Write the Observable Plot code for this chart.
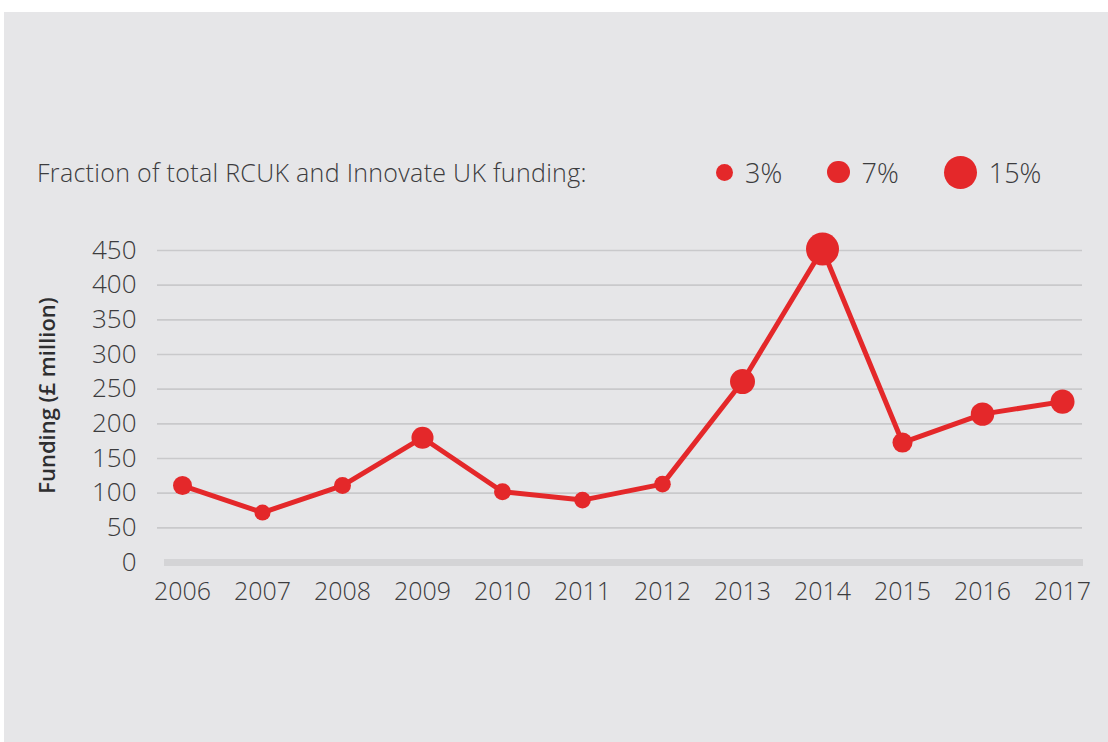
<!DOCTYPE html>
<html>
<head>
<meta charset="utf-8">
<script src="https://cdn.jsdelivr.net/npm/d3@7"></script>
<script src="https://cdn.jsdelivr.net/npm/@observablehq/plot@0.6"></script>
<style>
  html, body { margin: 0; padding: 0; background: #ffffff; width: 1108px; height: 742px; overflow: hidden; }
  #panel { position: absolute; left: 4px; top: 12px; width: 1104px; height: 730px; background: #e6e6e8; }
  #legend-title { position: absolute; left: 37px; top: 152px; height: 40px; display: flex; align-items: center;
    font-family: "Open Sans", sans-serif; font-weight: 300; font-size: 25px; letter-spacing: 0.3px; color: #3c3c3e; white-space: nowrap; }
  #legend { position: absolute; left: 716px; top: 152px; height: 40px; display: flex; align-items: center; gap: 45px;
    font-family: "Open Sans", sans-serif; font-weight: 300; font-size: 27px; color: #3c3c3e; }
  .item { display: flex; align-items: center; gap: 12px; }
  .swatch { border-radius: 50%; display: inline-block; }
  #chart { position: absolute; left: 0; top: 220px; }
</style>
</head>
<body>
<div id="panel"></div>
<div id="legend-title">Fraction of total RCUK and Innovate UK funding:</div>
<div id="legend"></div>
<div id="chart"></div>
<script>
const years = [2006, 2007, 2008, 2009, 2010, 2011, 2012, 2013, 2014, 2015, 2016, 2017];
const funding = [111, 72, 111, 180, 102, 90, 113, 261, 452, 173, 214, 232];
const fractionPct = [4.5, 2.3, 3.0, 6.8, 3.0, 2.7, 2.7, 9.0, 15.0, 5.3, 7.8, 8.3];
const legendFractions = [3, 7, 15];
const yTicks = [0, 50, 100, 150, 200, 250, 300, 350, 400, 450];
const yLabel = "Funding (£ million)";

const red = "#e4282a";
const data = years.map((year, i) => ({ year, funding: funding[i], fraction: fractionPct[i] }));

const chart = Plot.plot({
  width: 1108,
  height: 400,
  marginLeft: 181,
  marginRight: 46,
  marginTop: 30,
  marginBottom: 58,
  style: { background: "transparent", fontFamily: "Open Sans, sans-serif", color: "#3c3c3e", overflow: "visible" },
  x: { type: "point", domain: years, padding: 0 },
  y: { domain: [0, 450] },
  r: { type: "linear", domain: [0, 15], range: [6.5, 16.5] },
  marks: [
    Plot.ruleY(yTicks.filter(d => d > 0), { stroke: "#c9c9cb", strokeWidth: 1.6, insetLeft: -24, insetRight: -20 }),
    Plot.ruleY([0], { stroke: "#d4d4d6", strokeWidth: 7, insetLeft: -17, insetRight: -21 }),
    Plot.line(data, { x: "year", y: "funding", stroke: red, strokeWidth: 5 }),
    Plot.dot(data, { x: "year", y: "funding", r: "fraction", fill: red }),
    Plot.axisY({ ticks: yTicks, tickSize: 0, tickPadding: 45, fontSize: 26, fontWeight: 300, label: null }),
    Plot.axisX({ tickSize: 0, tickPadding: 20, fontSize: 25, fontWeight: 300, label: null, tickFormat: d => String(d) }),
    Plot.text([yLabel], { text: d => d, frameAnchor: "left", textAnchor: "middle", rotate: -90, dx: -134, dy: -11, fontSize: 22, fontWeight: 600, fill: "#2e2e30" })
  ]
});
document.getElementById("chart").appendChild(chart);

const rScale = chart.scale("r");
const legend = document.getElementById("legend");
legendFractions.forEach(v => {
  const r = rScale.apply(v);
  const item = document.createElement("div");
  item.className = "item";
  const sw = document.createElement("span");
  sw.className = "swatch";
  sw.style.width = (2 * r) + "px";
  sw.style.height = (2 * r) + "px";
  sw.style.background = red;
  const lab = document.createElement("span");
  lab.textContent = v + "%";
  item.appendChild(sw);
  item.appendChild(lab);
  legend.appendChild(item);
});
</script>
</body>
</html>
